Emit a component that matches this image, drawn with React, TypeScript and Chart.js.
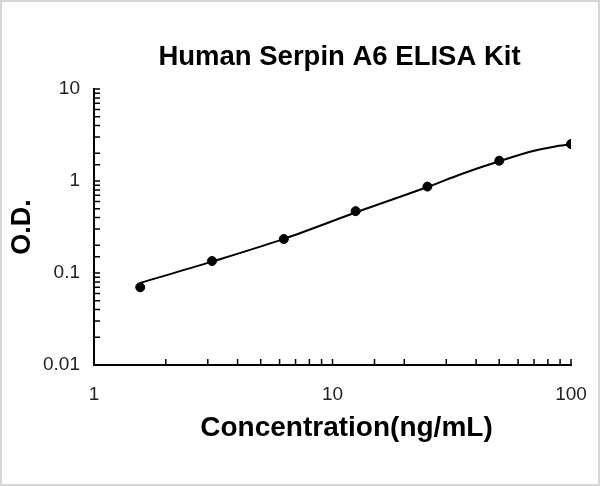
import React, { useEffect, useRef } from "react";
import { Chart, registerables } from "chart.js";

Chart.register(...registerables);

// ---- Data ----
const concentrations = [1.5625, 3.125, 6.25, 12.5, 25, 50, 100];
const odValues = [0.07, 0.135, 0.234, 0.47, 0.87, 1.66, 2.52];
const fitCurveX = [1.5625, 3.125, 6.25, 12.5, 25, 35, 50, 70, 85, 100];
const fitCurveOD = [0.078, 0.133, 0.235, 0.455, 0.86, 1.2, 1.64, 2.13, 2.36, 2.5];
const xTickLabels = ["1", "10", "100"];
const yTickLabels = ["0.01", "0.1", "1", "10"];
const chartTitle = "Human Serpin A6 ELISA Kit";
const xAxisTitle = "Concentration(ng/mL)";
const yAxisTitle = "O.D.";

const FONT = "'Liberation Sans', Arial, sans-serif";

const isDecade = (v: number) => {
  const l = Math.log10(v);
  return Math.abs(l - Math.round(l)) < 1e-6;
};

const frameTicksTitles = {
  id: "frameTicksTitles",
  beforeDraw(chart: any) {
    const { ctx, width, height } = chart;
    ctx.save();
    ctx.fillStyle = "#ffffff";
    ctx.fillRect(0, 0, width, height);
    ctx.strokeStyle = "#d6d6d6";
    ctx.lineWidth = 2;
    ctx.strokeRect(1, 1, width - 2, height - 2);
    ctx.restore();
  },
  afterDatasetsDraw(chart: any) {
    const { ctx, chartArea } = chart;
    const xs = chart.scales.x;
    const ys = chart.scales.y;
    ctx.save();
    ctx.strokeStyle = "#000";
    ctx.lineWidth = 1.5;
    ctx.beginPath();
    xs.ticks.forEach((t: any) => {
      const px = xs.getPixelForValue(t.value);
      if (px <= chartArea.left + 1) return;
      ctx.moveTo(px, chartArea.bottom);
      ctx.lineTo(px, chartArea.bottom - 6);
    });
    ys.ticks.forEach((t: any) => {
      const py = ys.getPixelForValue(t.value);
      if (py >= chartArea.bottom - 1) return;
      ctx.moveTo(chartArea.left, py);
      ctx.lineTo(chartArea.left + 6, py);
    });
    ctx.stroke();

    // Titles
    const cx = (chartArea.left + chartArea.right) / 2;
    ctx.fillStyle = "#000";
    ctx.textAlign = "center";
    ctx.textBaseline = "middle";
    ctx.font = `bold 27.5px ${FONT}`;
    ctx.fillText(chartTitle, cx + 7, chartArea.top - 32);
    ctx.font = `bold 28px ${FONT}`;
    ctx.fillText(xAxisTitle, cx + 14, chartArea.bottom + 63);
    ctx.restore();
  },
};

export default function App() {
  const ref = useRef<HTMLCanvasElement | null>(null);

  useEffect(() => {
    if (!ref.current) return;
    const chart = new Chart(ref.current, {
      type: "line",
      data: {
        datasets: [
          {
            label: "fit",
            data: fitCurveX.map((c, i) => ({ x: c, y: fitCurveOD[i] })),
            borderColor: "#000",
            borderWidth: 2,
            pointRadius: 0,
            cubicInterpolationMode: "monotone",
            fill: false,
          },
          {
            label: "points",
            data: concentrations.map((c, i) => ({ x: c, y: odValues[i] })),
            showLine: false,
            pointRadius: 4.5,
            pointBackgroundColor: "#000",
            pointBorderColor: "#000",
          },
        ],
      },
      plugins: [frameTicksTitles],
      options: {
        responsive: false,
        animation: false,
        layout: { padding: { left: 0, right: 29, top: 89, bottom: 0 } },
        plugins: {
          legend: { display: false },
          tooltip: { enabled: false },
          title: { display: false },
        },
        scales: {
          x: {
            type: "logarithmic",
            min: 1,
            max: 100,
            grid: { display: true, drawOnChartArea: false, drawTicks: false },
            border: { display: true, color: "#000", width: 2 },
            ticks: {
              autoSkip: false,
              maxRotation: 0,
              padding: 2,
              color: "#222",
              font: { family: FONT, size: 19, lineHeight: 2.884 },
              callback: (v: any) =>
                isDecade(Number(v)) ? xTickLabels[Math.round(Math.log10(Number(v)))] : "",
            },
            title: { display: false },
            afterFit: (s: any) => {
              s.height = 121;
            },
          },
          y: {
            type: "logarithmic",
            min: 0.01,
            max: 10,
            grid: { display: true, drawOnChartArea: false, drawTicks: false },
            border: { display: true, color: "#000", width: 2 },
            ticks: {
              autoSkip: false,
              padding: 14,
              color: "#222",
              font: { family: FONT, size: 19 },
              callback: (v: any) =>
                isDecade(Number(v)) ? yTickLabels[Math.round(Math.log10(Number(v))) + 2] : "",
            },
            title: {
              display: true,
              text: yAxisTitle,
              color: "#000",
              font: { family: FONT, size: 27, weight: "bold" },
              padding: { top: 6.8, bottom: 0 },
            },
            afterFit: (s: any) => {
              s.width = 94;
            },
          },
        },
      },
    } as any);
    return () => chart.destroy();
  }, []);

  return (
    <div style={{ position: "fixed", left: 0, top: 0, width: 600, height: 486, background: "#fff" }}>
      <canvas ref={ref} width={600} height={486} style={{ display: "block", width: 600, height: 486 }} />
    </div>
  );
}
